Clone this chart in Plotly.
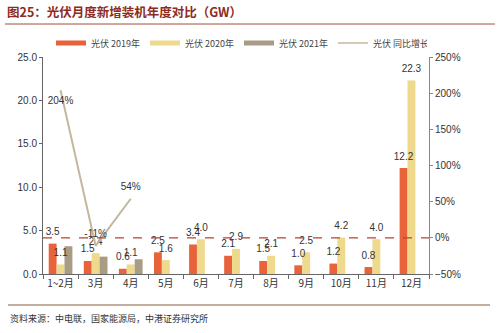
import plotly.graph_objects as go

categories = ["1~2月", "3月", "4月", "5月", "6月", "7月", "8月", "9月", "10月", "11月", "12月"]
pv2019 = [3.5, 1.5, 0.6, 2.5, 3.4, 2.1, 1.5, 1.0, 1.2, 0.8, 12.2]
pv2020 = [1.1, 2.4, 1.1, 1.6, 4.0, 2.9, 2.1, 2.5, 4.2, 4.0, 22.3]
pv2021 = [3.2, 2.0, 1.7, None, None, None, None, None, None, None, None]
growth = [204, -11, 54, None, None, None, None, None, None, None, None]
growth_labels = ["204%", "-11%", "54%", "", "", "", "", "", "", "", ""]
series_names = ["光伏 2019年", "光伏 2020年", "光伏 2021年", "光伏 同比增长"]

W, H = 500, 333
ML, MR, MT, MB = 43, 71, 57, 59
PW, PH = W - ML - MR, H - MT - MB

def px_x(x):
    return (x - ML) / PW

def px_y(y):
    return (H - MB - y) / PH

C19 = "#E8633A"
C20 = "#EED98C"
C21 = "#A99C84"
CLINE = "#C5B79D"
NUMFONT = "Liberation Sans, Arial, Noto Sans CJK SC"
CJK = "Noto Sans CJK SC, Liberation Sans"

idx = list(range(len(categories)))
BW = 0.225
offsets = [-1.5 * BW, -0.5 * BW, 0.5 * BW]

fig = go.Figure()

for vals, col, nm, off in zip([pv2019, pv2020, pv2021], [C19, C20, C21], series_names[:3], offsets):
    fig.add_trace(go.Bar(x=idx, y=vals, marker_color=col, name=nm, width=BW, offset=off,
                         marker_line_width=0, showlegend=False, hoverinfo="skip"))

fig.add_trace(go.Scatter(x=idx, y=growth, yaxis="y2", mode="lines+markers+text",
                         line=dict(color=CLINE, width=2), marker=dict(size=8, opacity=0),
                         text=growth_labels,
                         textposition=["bottom center", "top center", "top center"] + ["top center"] * 8,
                         textfont=dict(size=10, color="#333333", family=NUMFONT),
                         cliponaxis=False, showlegend=False, name=series_names[3]))

# value labels on top of the 2019 / 2020 bars, drawn above all bars
for vals, off in zip([pv2019, pv2020], offsets[:2]):
    fig.add_trace(go.Scatter(x=[i + off + BW / 2 for i in idx], y=vals, mode="markers+text",
                             marker=dict(size=8, opacity=0),
                             text=[f"{v:.1f}" for v in vals], textposition="top center",
                             textfont=dict(size=10, color="#333333", family=NUMFONT),
                             cliponaxis=False, showlegend=False, hoverinfo="skip"))

# legend entries (flat swatches)
for nm, col, w in zip(series_names, [C19, C20, C21, CLINE], [5, 5, 5, 1.5]):
    fig.add_trace(go.Scatter(x=[None], y=[None], mode="lines", name=nm,
                             line=dict(color=col, width=w), showlegend=True))

fig.update_layout(
    width=W, height=H,
    margin=dict(l=ML, r=MR, t=MT, b=MB),
    paper_bgcolor="white", plot_bgcolor="white",
    barmode="overlay",
    font=dict(family=NUMFONT, size=10, color="#333333"),
    legend=dict(orientation="h", x=px_x(51), xanchor="left", y=px_y(43), yanchor="middle",
                font=dict(family=CJK, size=9, color="#444444"),
                entrywidth=49, entrywidthmode="pixels", itemwidth=30,
                bgcolor="rgba(0,0,0,0)"),
    xaxis=dict(range=[-0.5, len(categories) - 0.5], tickmode="array", tickvals=idx,
               ticktext=categories, tickangle=0, showline=True, linecolor="#666666", linewidth=1,
               ticks="", showgrid=False, zeroline=False,
               minor=dict(tick0=0.5, dtick=1, ticks="outside", ticklen=4, tickcolor="#666666",
                          showgrid=False),
               tickfont=dict(family=CJK, size=10, color="#333333")),
    yaxis=dict(range=[0, 25], dtick=5, tickformat=".1f", showline=True, linecolor="#666666",
               ticks="outside", ticklen=3, tickcolor="#666666", showgrid=False, zeroline=False,
               tickfont=dict(size=10, color="#333333")),
    yaxis2=dict(range=[-50, 250], dtick=50, ticksuffix="%", overlaying="y", side="right",
                showline=True, linecolor="#888888", ticks="outside", ticklen=3,
                tickcolor="#888888", showgrid=False, zeroline=False,
                tickfont=dict(size=10, color="#333333")),
    shapes=[
        dict(type="line", xref="paper", yref="y2", x0=0, x1=1, y0=0, y1=0,
             line=dict(color="#B8432E", width=1.2, dash="dash")),
        dict(type="line", xref="paper", yref="paper", x0=px_x(5), x1=px_x(495),
             y0=px_y(24), y1=px_y(24), line=dict(color="#A0523C", width=1)),
        dict(type="line", xref="paper", yref="paper", x0=px_x(8), x1=px_x(490),
             y0=px_y(305), y1=px_y(305), line=dict(color="#8B5A3C", width=1)),
    ],
    annotations=[
        dict(text="<b>图25：光伏月度新增装机年度对比（GW）</b>", xref="paper", yref="paper",
             x=px_x(5), y=px_y(12), xanchor="left", yanchor="middle", showarrow=False,
             font=dict(family=CJK, size=12.5, color="#8E2B22")),
        dict(text="资料来源：中电联，国家能源局，中港证券研究所", xref="paper", yref="paper",
             x=px_x(8), y=px_y(318), xanchor="left", yanchor="middle", showarrow=False,
             font=dict(family=CJK, size=9, color="#333333")),
    ],
)

fig.write_html("out.html")
